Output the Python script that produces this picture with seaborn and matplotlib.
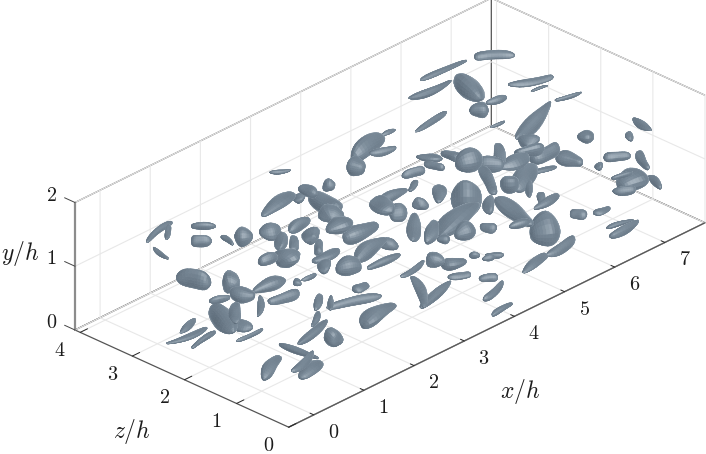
import numpy as np
import matplotlib
matplotlib.use("Agg")
import matplotlib.pyplot as plt
import seaborn as sns
from mpl_toolkits.mplot3d import proj3d

# vortical structures (units of h)
blob_x = [.50,.57,.32,1.18,.97,1.24,1.48,1.84,2.21,2.53,.63,.94,.78,.48,.65,.60,.46,.96,1.09,1.25,1.56,1.73,1.87,1.50,1.93,2.25,
          .26,.17,.26,.66,.19,.66,.48,.52,.92,1.14,1.33,1.09,1.84,2.06,2.06,1.45,2.83,2.51,2.70,2.65,2.61,2.26,2.24,2.96,2.83,3.11,
          2.12,2.01,1.64,2.37,2.83,3.08,3.50,3.73,4.10,4.31,4.43,4.03,3.65,2.95,3.17,4.00,3.90,3.57,3.85,4.24,3.89,4.04,3.77,3.59,
          3.47,3.32,4.30,4.67,4.22,3.87,4.55,5.01,5.12,4.78,4.96,5.49,5.23,5.64,6.07,6.02,6.24,6.48,6.43,5.69,6.03,5.40,5.62,5.64,
          5.66,6.10,6.39,6.56,6.56,5.42,5.06,5.44,4.91,6.99,6.76,7.14,7.43,7.43,7.52,7.17,7.06,7.03,7.51,5.87,6.76,6.09,5.68,6.09,
          6.23,5.86,5.15,6.69,6.76,7.00,4.02,3.62,4.08,4.38,4.64,4.90,4.52,2.52]
blob_y = [1.4,1.4,1.2,1.3,1.2,1.2,1.2,1.2,1.4,1.4,.8,.8,.8,.5,.4,.6,.8,.6,.9,.7,.8,1.0,1.1,1.0,1.1,1.2,
          .3,.2,.2,.3,.3,.4,.4,.3,.6,.5,.8,.7,.7,.8,.5,.8,1.6,1.6,1.4,1.3,1.2,1.1,1.0,1.0,.9,.9,
          1.0,.9,.9,.8,.8,.7,.7,.6,.6,.5,.5,.4,.5,.5,.4,.25,.1,1.0,1.2,1.2,1.4,1.5,.9,1.3,
          1.2,1.3,.9,1.0,.8,.8,.8,1.2,.8,1.0,1.4,1.3,1.3,1.2,1.3,1.2,1.1,1.0,1.4,1.0,1.0,1.0,.9,.8,
          .8,.5,.5,.3,.25,.5,.7,.35,.3,1.1,.9,.9,.8,1.1,1.3,.6,.7,.5,.5,1.5,1.9,1.8,1.7,1.7,
          1.6,1.6,1.6,1.8,1.7,1.6,1.6,1.5,1.6,1.7,1.4,1.4,1.4,1.7]
blob_z = [3.46,3.35,3.25,3.25,3.09,2.85,2.77,2.61,2.82,2.72,2.91,2.50,2.12,2.19,1.99,2.08,2.25,1.96,1.91,1.78,1.82,2.16,2.43,2.32,2.24,2.45,
          2.67,2.59,2.37,1.86,1.00,.92,.66,.56,.90,.73,1.20,1.01,1.00,1.08,.75,1.07,2.44,2.53,2.40,2.22,2.03,2.23,2.06,1.94,1.64,1.55,
          1.80,1.73,1.67,1.62,1.38,1.06,1.05,.90,.86,.79,.79,.53,.72,.81,.71,.39,.14,1.51,1.66,1.68,1.84,1.98,1.37,1.97,
          1.72,1.86,1.37,1.57,1.17,1.24,1.03,1.47,1.08,1.23,1.79,1.73,1.66,1.58,1.72,1.66,1.57,1.33,1.96,1.43,1.38,1.44,1.27,.96,
          1.08,.79,.62,.44,.35,.78,.92,.49,.49,1.51,1.03,1.05,.84,1.09,.94,.80,.88,.81,.68,2.12,3.04,3.37,3.22,2.88,
          2.49,2.47,2.71,2.27,2.18,1.85,2.83,2.67,2.60,2.79,2.25,2.07,2.04,3.07]
blob_lx = [.33,.16,-.05,.115,.096,-.03,.086,.14,.38,.03,.10,.064,.07,-.16,.05,.21,.14,.22,.28,.25,.04,.14,.17,.15,.15,.22,
           .22,.36,.28,.25,.31,.04,.31,.27,.39,-.02,.17,.18,.39,.13,.36,.15,.02,.02,-.03,.06,.22,.03,.13,.31,.38,.04,
           .25,.11,.13,.16,.30,.28,.03,.16,.05,.08,.086,.11,.14,-.26,.42,.28,.22,.29,.03,.17,.13,.17,.25,.31,
           .10,-.05,.52,.08,.15,.06,.06,-.22,-.12,.17,.19,.23,.13,.26,.06,.20,.25,.06,.55,.35,.18,.09,.17,.26,
           .11,.06,.14,.21,.30,.18,.16,.32,.30,.02,.02,.15,-.12,.08,-.04,.23,.16,.13,-.07,.13,.21,.43,.39,-.10,
           .16,.09,.36,.30,.14,.21,.36,.04,.19,.13,.10,.03,.05,.12]
blob_lz = [.08,.13,-.19,-.12,-.10,-.14,-.09,-.06,.07,.03,-.23,.061,-.16,-.35,-.14,.20,-.06,.19,-.04,-.05,.04,.02,.16,-.03,.14,.02,
           .07,-.04,.05,-.01,.14,-.34,.10,.06,.10,-.11,.12,.11,-.15,-.01,.05,.14,.02,-.15,-.31,.06,-.02,.03,.12,-.03,.07,.04,
           -.01,.10,-.01,-.08,-.02,.05,.03,-.08,-.05,-.04,-.09,-.07,-.08,-.37,.12,.09,.02,.26,.03,.16,.07,-.05,.16,.01,
           -.06,-.20,.14,-.08,-.03,-.06,-.10,-.33,-.43,.16,-.07,.22,-.14,-.02,.06,-.08,-.01,-.19,.20,.15,-.06,-.09,.16,.02,
           .10,-.10,-.02,-.05,.02,-.10,-.04,.05,.07,-.02,.02,-.11,-.21,.08,-.21,-.03,-.04,-.09,-.18,-.01,-.18,-.03,-.03,-.32,
           -.04,-.09,.05,-.14,-.02,-.05,.05,-.12,-.07,-.01,-.15,-.16,-.14,-.08]
blob_w = [.035,.035,.035,.07,.08,.03,.10,.08,.07,.07,.15,.15,.11,.125,.08,.055,.04,.04,.08,.07,.055,.165,.08,.07,.055,.055,
          .035,.04,.04,.035,.10,.035,.04,.07,.05,.11,.055,.04,.07,.07,.11,.03,.07,.055,.10,.14,.125,.125,.07,.10,.08,.08,
          .05,.07,.035,.125,.05,.04,.11,.08,.04,.03,.03,.055,.05,.07,.08,.05,.03,.07,.07,.065,.04,.07,.11,.07,
          .11,.11,.125,.19,.10,.055,.07,.08,.125,.07,.14,.07,.08,.08,.11,.10,.125,.11,.08,.10,.03,.11,.04,.055,
          .055,.08,.055,.03,.055,.19,.04,.055,.055,.10,.06,.08,.055,.04,.04,.125,.035,.07,.055,.02,.07,.035,.05,.125,
          .035,.08,.04,.055,.02,.035,.125,.10,.04,.02,.055,.08,.055,.03]

x_ticks = [0, 1, 2, 3, 4, 5, 6, 7]
z_ticks = [0, 1, 2, 3, 4]
y_ticks = [0, 1, 2]
X_MIN, X_MAX, Z_MAX = -0.5, 7.8, 4.1

W, H = 706, 454
sns.set_theme(style="white")
plt.rcParams["mathtext.fontset"] = "cm"
plt.rcParams["grid.color"] = "#e8e8e8"
plt.rcParams["grid.linewidth"] = 0.8

surface_cmap = sns.blend_palette(["#46525d", "#62717f", "#7a8a98", "#a6b3be", "#dbe2e8"], as_cmap=True)
ELEV, AZIM = 28.2, -136.1
er, az = np.radians(ELEV), np.radians(AZIM)
view = np.array([np.cos(er)*np.cos(az), np.cos(er)*np.sin(az), np.sin(er)])   # mpl x, y(=z/h), z(=y/h)
light = np.array([-0.25, -0.85, 0.75]); light = light/np.linalg.norm(light)

fig = plt.figure(figsize=(W/100, H/100), dpi=100, facecolor="white")
side = 640
ax = fig.add_axes([0.05, 0.0, side/W, side/H], projection="3d", proj_type="ortho",
                  computed_zorder=False, facecolor="none")
ax.view_init(elev=ELEV, azim=AZIM)
ax.set_xlim(X_MIN, X_MAX, view_margin=0)
ax.set_ylim(0, Z_MAX, view_margin=0)
ax.set_zlim(0, 2, view_margin=0)
ax.set_box_aspect((8.3, 4.1, 2), zoom=1.0)


def blob_mesh(i):
    cen = np.array([blob_x[i], blob_z[i], blob_y[i]])
    L = np.array([blob_lx[i], blob_lz[i], 0.0])
    w = blob_w[i]*1.1
    n = np.linalg.norm(L)
    if n < 1e-6:
        L = np.array([w, 0, 0]); n = w
    if n < w:
        L = L*w/n; n = w
    e1 = L/n
    e2 = np.array([-e1[1], e1[0], 0.0])
    e3 = np.array([0.0, 0.0, 1.0])
    u = np.linspace(0, np.pi, 17)
    v = np.linspace(0, 2*np.pi, 21)
    U, V = np.meshgrid(u, v, indexing="ij")
    lobes = 1 + 0.14*np.sin(2*V + i) + 0.09*np.cos(3*V + 2*i) + 0.05*np.sin(5*V + 3*i)
    along = 1 + 0.22*np.cos(U + i*0.7) + 0.08*np.sin(3*U + i*1.3)
    power = (0.7, 0.9, 1.1, 0.8)[i % 4]
    r = w*np.sin(U)**power*lobes*along
    squash = 0.85 + 0.15*((i*5) % 3)/2
    bend = 0.08*n*(((i*7) % 5)-2)/2*(np.cos(U)**2-0.5)
    P = (cen[None, None, :]
         + (n*np.cos(U))[..., None]*e1
         + (r*np.cos(V) + bend)[..., None]*e2
         + (r*np.sin(V)*squash + 0.6*bend)[..., None]*e3)
    return P, U, V


def shade_faces(P, U, V, i):
    du = np.gradient(P, axis=0)
    dv = np.gradient(P, axis=1)
    N = np.cross(du, dv)
    N = N/np.maximum(np.linalg.norm(N, axis=-1, keepdims=True), 1e-9)
    cen = P.mean(axis=(0, 1), keepdims=True)
    flip = np.sum(N*(P-cen), axis=-1, keepdims=True) < 0
    N = np.where(flip, -N, N)
    N = 0.25*(N[:-1, :-1] + N[1:, :-1] + N[:-1, 1:] + N[1:, 1:])
    N = N/np.maximum(np.linalg.norm(N, axis=-1, keepdims=True), 1e-9)
    nl = np.clip(np.sum(N*light, axis=-1), 0, 1)
    nv = np.clip(np.sum(N*view, axis=-1), 0, 1)
    h = light + view; h = h/np.linalg.norm(h)
    spec = np.clip(np.sum(N*h, axis=-1), 0, 1)**14
    t = 0.21 + 0.28*nl + 0.26*spec + 0.40*(1-nv)**4
    t = t + 0.05*np.sin(3*U[:-1, :-1] + i)*np.cos(2*V[:-1, :-1] + i)
    return surface_cmap(np.clip(t, 0, 1))


for i in range(len(blob_x)):
    P, U, V = blob_mesh(i)
    fc = shade_faces(P, U, V, i)
    depth = blob_x[i]*view[0] + blob_z[i]*view[1] + blob_y[i]*view[2]
    ax.plot_surface(P[..., 0], P[..., 1], P[..., 2], facecolors=fc, rstride=1, cstride=1,
                    shade=False, linewidth=0.25, antialiased=True, zorder=10 + depth)

# axes furniture
ax.grid(True)
for axis in (ax.xaxis, ax.yaxis, ax.zaxis):
    axis.set_pane_color((1, 1, 1, 1))
    axis.pane.set_edgecolor("#5a5a5a")
    axis.pane.set_linewidth(0.9)
    axis.line.set_color("#555555")
    axis.line.set_linewidth(0.9)
    axis._axinfo["tick"]["inward_factor"] = 0.0
    axis._axinfo["tick"]["outward_factor"] = 0.22
    axis._axinfo["tick"]["color"] = "#444444"
    axis._axinfo["tick"]["linewidth"] = {True: 0.7, False: 0.5}
ax.zaxis.line.set_color("#8c8c8c")
ax.zaxis.line.set_linewidth(1.6)
ax.zaxis._axinfo["tick"]["outward_factor"] = 0.0

ax.set_xticks(x_ticks)
ax.set_yticks(z_ticks)
ax.set_zticks(y_ticks)
for axis in (ax.xaxis, ax.yaxis, ax.zaxis):
    axis.set_major_formatter(matplotlib.ticker.NullFormatter())
for t in y_ticks:
    ax.plot([X_MIN, X_MIN], [Z_MAX, Z_MAX+0.2], [t, t], color="#444444", lw=0.7, zorder=4, clip_on=False)

TXT = "#1c1c1c"
fig.text(520/W, 1-392/H, r"$x/h$", fontsize=17, ha="center", va="center", color=TXT)
fig.text(132/W, 1-432/H, r"$z/h$", fontsize=17, ha="center", va="center", color=TXT)
fig.text(20/W, 1-253/H, r"$y/h$", fontsize=17, ha="center", va="center", color=TXT)


def corner_px(px, py, pz):
    fig.canvas.draw()
    a, b, _ = proj3d.proj_transform(px, py, pz, ax.get_proj())
    return ax.transData.transform((a, b))


# fit the box to its place in the figure: left corner (75, 330), right corner (705, 223) from the top
left = corner_px(X_MIN, Z_MAX, 0)
right = corner_px(X_MAX, 0, 0)
side2 = side*(705-75)/(right[0]-left[0])
pos = ax.get_position()
ax.set_position([pos.x0, pos.y0, side2/W, side2/H])
left = corner_px(X_MIN, Z_MAX, 0)
pos = ax.get_position()
ax.set_position([pos.x0 + (75-left[0])/W, pos.y0 + ((H-330)-left[1])/H, pos.width, pos.height])
fig.canvas.draw()


def tick_label(px, py, pz, s):
    a, b, _ = proj3d.proj_transform(px, py, pz, ax.get_proj())
    qx, qy = ax.transData.transform((a, b))
    fig.text(qx/W, qy/H, s, fontsize=14.5, ha="center", va="center", color=TXT)


for t in x_ticks:
    tick_label(t, -0.38, -0.13, f"${t}$")
for t in z_ticks:
    tick_label(X_MIN-0.4, t, -0.13, f"${t}$")
for t in y_ticks:
    tick_label(X_MIN, Z_MAX+0.45, t-0.05, f"${t}$")

fig.savefig("out.png", dpi=100)
